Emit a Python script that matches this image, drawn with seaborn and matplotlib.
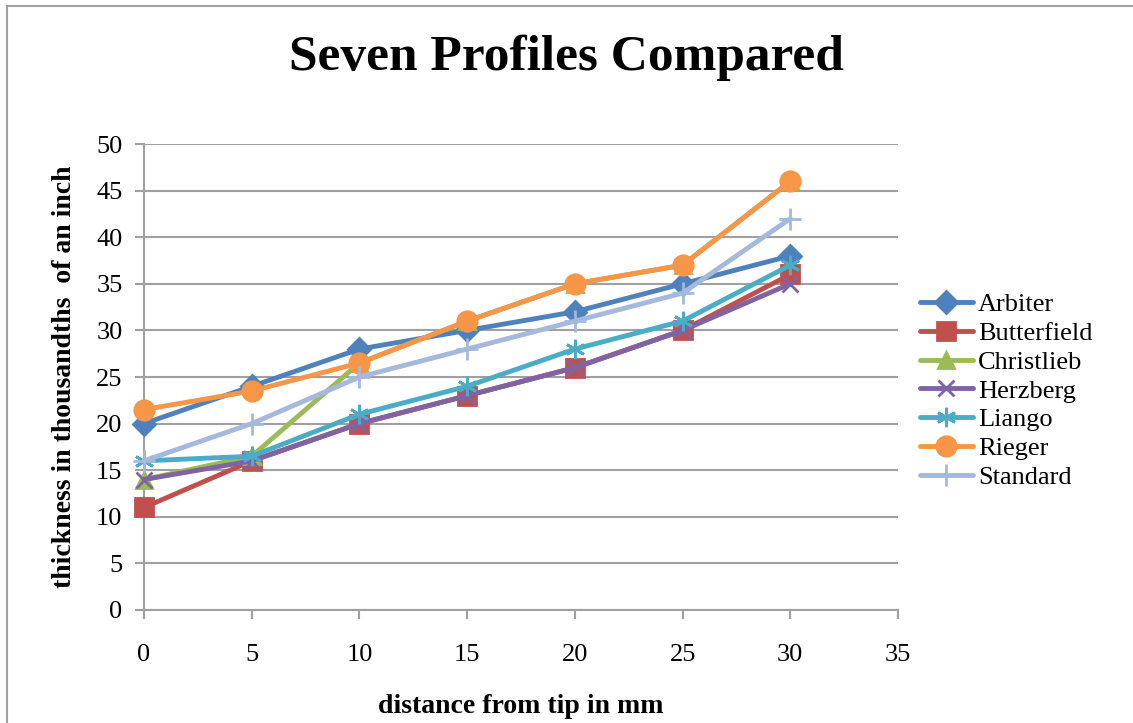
import numpy as np
import pandas as pd
import seaborn as sns
import matplotlib.pyplot as plt
from matplotlib.patches import Rectangle

# distance from tip (mm)
distance = [0, 5, 10, 15, 20, 25, 30]

# thickness values (thousandths of an inch)
arbiter = [20, 24, 28, 30, 32, 35, 38]
butterfield = [11, 16, 20, 23, 26, 30, 36]
christlieb = [14, 16.5, 26.5, 31, 35, 37, 46]
herzberg = [14, 16, 20, 23, 26, 30, 35]
liango = [16, 16.5, 21, 24, 28, 31, 37]
rieger = [21.5, 23.5, 26.5, 31, 35, 37, 46]
standard = [16, 20, 25, 28, 31, 34, 42]

names = ['Arbiter', 'Butterfield', 'Christlieb', 'Herzberg', 'Liango', 'Rieger', 'Standard']
series = [arbiter, butterfield, christlieb, herzberg, liango, rieger, standard]

colors = ['#4F81BD', '#C0504D', '#9BBB59', '#8064A2', '#4BACC6', '#F79646', '#A5B9DC']
markers = ['D', 's', '^', 'x', (6, 2, 0), 'o', '+']
msizes = [11, 13, 12, 12, 14, 14, 16]

sns.set_style('white')
plt.rcParams['font.family'] = ['Liberation Serif', 'DejaVu Serif']
plt.rcParams['text.color'] = 'black'
plt.rcParams['axes.labelcolor'] = 'black'
plt.rcParams['xtick.labelcolor'] = 'black'
plt.rcParams['ytick.labelcolor'] = 'black'

fig = plt.figure(figsize=(11.33, 7.23), dpi=100)
ax = fig.add_axes([0.1271, 0.1563, 0.6655, 0.6445])

for name, vals, c, m, ms in zip(names, series, colors, markers, msizes):
    df = pd.DataFrame({'distance': distance, 'thickness': vals})
    sns.lineplot(data=df, x='distance', y='thickness', ax=ax, color=c, marker=m,
                 markersize=ms, linewidth=3.5, markeredgecolor=c, markeredgewidth=2,
                 label=name, clip_on=False, zorder=3)

ax.set_xlim(0, 35)
ax.set_ylim(0, 50)
ax.set_xticks(np.arange(0, 36, 5))
ax.set_yticks(np.arange(0, 51, 5))
ax.grid(axis='y', color='#A0A0A0', linewidth=1.5)
ax.set_axisbelow(True)
for s in ['top', 'right']:
    ax.spines[s].set_visible(False)
for s in ['left', 'bottom']:
    ax.spines[s].set_color('#A0A0A0')
    ax.spines[s].set_linewidth(1.5)
ax.tick_params(axis='both', which='major', labelsize=19, length=6.5, width=1.5,
               color='#A0A0A0', direction='out')
ax.tick_params(axis='x', pad=18)
ax.tick_params(axis='y', pad=9)
ax.tick_params(bottom=True, left=True)

ax.set_xlabel('distance from tip in mm', fontsize=20, fontweight='bold', labelpad=20)
ax.set_ylabel('thickness in thousandths  of an inch', fontsize=20, fontweight='bold', labelpad=14)

fig.text(0.5, 0.92, 'Seven Profiles Compared', ha='center', va='center',
         fontsize=37, fontweight='bold')

ax.legend(loc='center left', bbox_to_anchor=(1.015, 0.47), frameon=False, fontsize=19,
          handlelength=2.0, handletextpad=0.2, labelspacing=0.2, borderaxespad=0)

# chart frame: left and top edges only are visible in the picture
fig.patches.append(Rectangle((0.0065, -0.05), 1.1, 1.042, transform=fig.transFigure,
                             fill=False, edgecolor='#A0A0A0', linewidth=1.5))

fig.savefig('out.png', dpi=100)
